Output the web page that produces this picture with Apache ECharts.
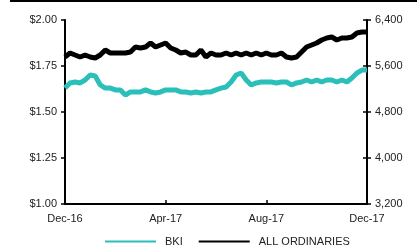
<!DOCTYPE html>
<html>

<head>
    <meta charset="utf-8">
    <title>BKI vs All Ordinaries</title>
    <style>
        html, body { margin: 0; padding: 0; background: #fff; }
        #main { width: 417px; height: 246px; }
    </style>
</head>

<body>
    <div id="main"></div>
</body>
<script type="text/javascript" src="https://cdn.jsdelivr.net/npm/echarts@6/dist/echarts.min.js"></script>
<script type="text/javascript">
    // x tick labels, one every 20 points
    var tickLabels = ['Dec-16', 'Apr-17', 'Aug-17', 'Dec-17'];

    // BKI share price ($), left axis
    var bki = [1.630, 1.658, 1.663, 1.658, 1.674, 1.701, 1.696, 1.647, 1.630, 1.630,
        1.620, 1.620, 1.592, 1.609, 1.609, 1.609, 1.620, 1.609, 1.603, 1.609,
        1.620, 1.620, 1.620, 1.609, 1.609, 1.603, 1.609, 1.603, 1.609, 1.609,
        1.620, 1.630, 1.636, 1.663, 1.701, 1.712, 1.674, 1.647, 1.658, 1.663,
        1.663, 1.663, 1.658, 1.663, 1.663, 1.647, 1.658, 1.663, 1.674, 1.663,
        1.674, 1.663, 1.674, 1.674, 1.663, 1.674, 1.663, 1.685, 1.712, 1.728, 1.728];

    // All Ordinaries index, right axis
    var allOrds = [5757, 5826, 5791, 5757, 5791, 5757, 5739, 5791, 5878, 5826,
        5826, 5826, 5826, 5843, 5930, 5913, 5930, 6000, 5930, 5965,
        6000, 5913, 5878, 5826, 5843, 5791, 5791, 5878, 5757, 5826,
        5791, 5791, 5826, 5791, 5826, 5791, 5826, 5791, 5826, 5791,
        5826, 5791, 5791, 5826, 5757, 5739, 5757, 5843, 5930, 5965,
        6000, 6052, 6087, 6104, 6052, 6087, 6087, 6104, 6174, 6191, 6191];

    var days = [];
    for (var i = 0; i < bki.length; i++) {
        days.push(i);
    }

    var myChart = echarts.init(document.getElementById('main'));

    var labelStyle = {
        color: '#222',
        fontSize: 11,
        fontFamily: 'Liberation Sans, Arial, sans-serif'
    };

    var option = {
        animation: false,
        graphic: [{
            type: 'rect',
            left: 10,
            top: 0,
            shape: { width: 407, height: 2 },
            style: { fill: '#000' }
        }],
        grid: {
            left: 65,
            right: 50,
            top: 20,
            bottom: 42
        },
        legend: {
            left: 100,
            top: 231,
            itemWidth: 51,
            itemHeight: 2,
            itemGap: 16,
            icon: 'rect',
            textStyle: {
                color: '#222',
                fontSize: 11,
                fontFamily: 'Liberation Sans, Arial, sans-serif',
                padding: [0, 0, 0, 4]
            },
            data: ['BKI', 'ALL ORDINARIES']
        },
        xAxis: {
            type: 'category',
            data: days,
            boundaryGap: false,
            axisLine: { lineStyle: { color: '#000', width: 2 } },
            axisTick: {
                inside: true,
                length: 4,
                interval: 19,
                lineStyle: { color: '#000', width: 1.5 }
            },
            axisLabel: Object.assign({
                interval: 19,
                margin: 9,
                formatter: function(v, idx) {
                    return tickLabels[idx / 20] || '';
                }
            }, labelStyle),
            splitLine: { show: false }
        },
        yAxis: [{
            type: 'value',
            position: 'left',
            min: 1.00,
            max: 2.00,
            interval: 0.25,
            axisLine: { show: true, lineStyle: { color: '#000', width: 2 } },
            axisTick: { show: true, length: 4, lineStyle: { color: '#000', width: 1.5 } },
            axisLabel: Object.assign({
                margin: 8,
                formatter: function(v) {
                    return '$' + v.toFixed(2);
                }
            }, labelStyle),
            splitLine: { show: false }
        }, {
            type: 'value',
            position: 'right',
            min: 3200,
            max: 6400,
            interval: 800,
            axisLine: { show: true, lineStyle: { color: '#000', width: 2 } },
            axisTick: { show: true, length: 4, lineStyle: { color: '#000', width: 1.5 } },
            axisLabel: Object.assign({
                margin: 8,
                formatter: function(v) {
                    return v.toLocaleString('en-US');
                }
            }, labelStyle),
            splitLine: { show: false }
        }, {
            // inner half of the right-hand ticks
            type: 'value',
            position: 'right',
            min: 3200,
            max: 6400,
            interval: 800,
            axisLine: { show: false },
            axisTick: { show: true, inside: true, length: 4, lineStyle: { color: '#000', width: 1.5 } },
            axisLabel: { show: false },
            splitLine: { show: false }
        }],
        series: [{
            name: 'BKI',
            type: 'line',
            yAxisIndex: 0,
            data: bki,
            symbol: 'none',
            color: '#2BBFBA',
            lineStyle: { width: 5, color: '#2BBFBA' }
        }, {
            name: 'ALL ORDINARIES',
            type: 'line',
            yAxisIndex: 1,
            data: allOrds,
            symbol: 'none',
            color: '#000',
            lineStyle: { width: 5, color: '#000' }
        }]
    };

    myChart.setOption(option);
</script>

</html>
